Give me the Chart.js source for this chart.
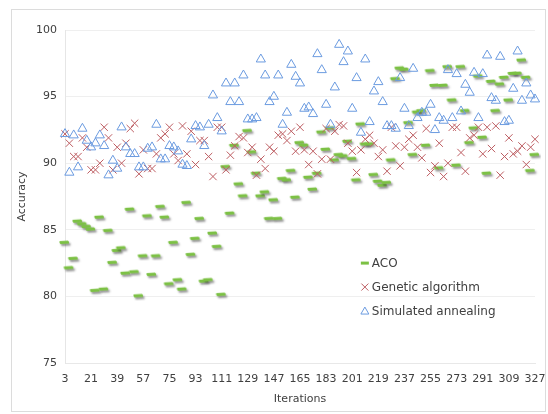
<!DOCTYPE html>
<html>
<head>
<meta charset="utf-8">
<script src="https://cdn.jsdelivr.net/npm/chart.js@4.4.1/dist/chart.umd.min.js"></script>
<style>
    html, body { margin: 0; padding: 0; background: #fff; }
    #wrap { position: relative; width: 548px; height: 414px; }
    #frame { position: absolute; left: 11px; top: 9px; right: 2px; bottom: 2px; border: 1px solid #dcdcdc; pointer-events: none; }
</style>
</head>
<body>
<div id="wrap">
    <canvas id="accChart" width="548" height="414"></canvas>
    <div id="frame"></div>
</div>
<script>
// categories (iterations)
const iterations = [3, 6, 9, 12, 15, 18, 21, 24, 27, 30, 33, 36, 39, 42, 45, 48, 51, 54, 57, 60,
    63, 66, 69, 72, 75, 78, 81, 84, 87, 90, 93, 96, 99, 102, 105, 108, 111, 114, 117, 120,
    123, 126, 129, 132, 135, 138, 141, 144, 147, 150, 153, 156, 159, 162, 165, 168, 171, 174, 177, 180,
    183, 186, 189, 192, 195, 198, 201, 204, 207, 210, 213, 216, 219, 222, 225, 228, 231, 234, 237, 240,
    243, 246, 249, 252, 255, 258, 261, 264, 267, 270, 273, 276, 279, 282, 285, 288, 291, 294, 297, 300,
    303, 306, 309, 312, 315, 318, 321, 324, 327];

const xTickLabels = [3, 21, 39, 57, 75, 93, 111, 129, 147, 165, 183, 201, 219, 237, 255, 273, 291, 309, 327];
const yTickLabels = [75, 80, 85, 90, 95, 100];

const acoValues = [84.0, 82.1, 82.8, 85.6, 85.4, 85.2, 85.0, 80.4, 85.9, 80.5, 84.9, 82.5, 83.4, 83.6, 81.7, 86.5, 81.8, 80.0, 83.0, 86.0,
    81.6, 83.0, 86.7, 85.9, 80.9, 84.0, 81.2, 80.5, 87.0, 83.1, 84.3, 85.8, 81.1, 81.2, 84.7, 83.7, 80.1, 89.7, 86.2, 91.3,
    88.4, 87.5, 92.4, 90.8, 89.2, 87.5, 87.8, 85.8, 87.2, 85.8, 88.8, 88.7, 89.4, 87.4, 91.5, 91.3, 88.9, 88.0, 89.2, 92.3,
    91.0, 92.6, 90.2, 90.6, 90.5, 91.6, 90.3, 88.7, 92.9, 91.4, 91.4, 89.1, 88.6, 88.3, 88.5, 90.2, 96.3, 97.1, 97.0, 93.0,
    90.6, 93.8, 93.9, 91.3, 96.9, 95.8, 89.6, 95.8, 97.2, 94.7, 89.8, 97.2, 93.9, 91.5, 92.6, 96.5, 91.9, 89.2, 96.1, 93.9,
    95.9, 96.4, 94.7, 96.7, 96.7, 97.7, 96.4, 89.4, 90.6];

const gaValues = [92.2, 91.5, 90.5, 90.5, 91.9, 91.2, 89.5, 89.5, 90.0, 92.7, 91.9, 89.5, 91.2, 90.0, 91.5, 92.6, 93.0, 89.2, 91.0, 89.6,
    89.6, 90.7, 91.9, 92.2, 92.7, 90.7, 90.2, 92.8, 90.7, 92.4, 89.9, 91.7, 91.7, 90.5, 89.0, 92.7, 92.7, 89.5, 90.6, 91.3,
    92.0, 91.9, 90.8, 91.2, 89.1, 90.3, 89.6, 91.2, 90.9, 92.1, 92.2, 91.7, 92.4, 90.9, 92.7, 91.0, 89.9, 90.9, 89.2, 90.3,
    92.6, 90.3, 92.4, 92.9, 92.8, 91.5, 90.9, 89.3, 91.0, 91.8, 92.1, 91.5, 90.5, 91.0, 89.4, 92.7, 91.3, 89.8, 91.2, 91.8,
    92.1, 91.2, 90.4, 92.6, 89.3, 89.8, 91.5, 89.0, 90.0, 92.7, 92.7, 90.8, 89.4, 91.9, 92.1, 92.7, 90.7, 92.7, 91.1, 92.8,
    89.1, 90.5, 91.9, 90.7, 90.9, 91.3, 89.9, 91.2, 91.8];

const saValues = [92.2, 89.3, 92.1, 89.7, 92.6, 91.7, 91.2, 91.5, 92.1, 91.3, 89.1, 90.2, 89.6, 92.7, 91.2, 90.7, 90.7, 89.7, 89.7, 91.1,
    91.2, 92.9, 90.3, 90.3, 91.3, 91.2, 90.9, 89.9, 89.8, 91.8, 92.8, 92.7, 91.3, 92.9, 95.1, 93.4, 92.4, 96.0, 94.6, 96.0,
    94.6, 96.6, 93.3, 93.3, 93.4, 97.8, 96.6, 94.6, 95.0, 96.6, 92.9, 93.8, 97.4, 96.5, 96.0, 94.1, 94.2, 93.7, 98.2, 97.0,
    94.4, 92.9, 95.7, 98.9, 97.6, 98.4, 94.1, 96.4, 92.3, 97.8, 93.1, 95.4, 96.1, 94.6, 92.8, 92.8, 92.6, 96.4, 94.1, 92.8,
    97.1, 93.4, 93.8, 93.8, 94.4, 92.5, 93.4, 93.2, 97.0, 93.4, 96.7, 93.9, 95.9, 95.3, 96.8, 93.4, 96.7, 98.1, 94.9, 94.7,
    98.0, 93.1, 93.2, 95.6, 98.4, 94.7, 96.0, 95.1, 94.8];

const seriesNames = ['ACO', 'Genetic algorithm', 'Simulated annealing'];

const GREEN = '#7cc144';
const RED = '#bd5d62';
const BLUE = '#6b9be0';
const TEXT = '#404040';
const FONT = "'DejaVu Sans', Verdana, sans-serif";

const app = {
    chart: null,

    // green dash with a soft drop shadow, like the Excel "dash" marker
    makeDash() {
        const c = document.createElement('canvas');
        c.width = 16;
        c.height = 10;
        const ctx = c.getContext('2d');
        ctx.shadowColor = 'rgba(60,60,60,0.55)';
        ctx.shadowBlur = 2;
        ctx.shadowOffsetX = 1.5;
        ctx.shadowOffsetY = 2;
        ctx.fillStyle = GREEN;
        ctx.beginPath();
        ctx.moveTo(2.5, 3);
        ctx.lineTo(11, 2.5);
        ctx.quadraticCurveTo(12.5, 3.5, 12, 5.5);
        ctx.lineTo(3.5, 6);
        ctx.quadraticCurveTo(2, 5, 2.5, 3);
        ctx.closePath();
        ctx.fill();
        return c;
    },

    legendPlugin() {
        return {
            id: 'insideLegend',
            afterDraw(chart) {
                const { ctx, chartArea: a } = chart;
                const x = a.left + (a.right - a.left) * 0.638;
                const rows = [0.70, 0.772, 0.844].map(f => a.top + (a.bottom - a.top) * f);
                ctx.save();
                ctx.font = '12px ' + FONT;
                ctx.textBaseline = 'middle';
                seriesNames.forEach((name, i) => {
                    const y = rows[i];
                    ctx.lineWidth = 1;
                    if (i === 0) {
                        ctx.fillStyle = GREEN;
                        ctx.fillRect(x - 4, y - 1.5, 8, 3);
                    } else if (i === 1) {
                        ctx.strokeStyle = RED;
                        ctx.beginPath();
                        ctx.moveTo(x - 3.5, y - 3.5); ctx.lineTo(x + 3.5, y + 3.5);
                        ctx.moveTo(x - 3.5, y + 3.5); ctx.lineTo(x + 3.5, y - 3.5);
                        ctx.stroke();
                    } else {
                        ctx.strokeStyle = BLUE;
                        ctx.beginPath();
                        ctx.moveTo(x, y - 4); ctx.lineTo(x + 4, y + 3); ctx.lineTo(x - 4, y + 3);
                        ctx.closePath();
                        ctx.stroke();
                    }
                    ctx.fillStyle = TEXT;
                    ctx.fillText(name, x + 7, y + 1);
                });
                ctx.restore();
            }
        };
    },

    init() {
        const dash = this.makeDash();
        const ctx = document.getElementById('accChart').getContext('2d');

        this.chart = new Chart(ctx, {
            type: 'line',
            data: {
                labels: iterations,
                datasets: [
                    { label: seriesNames[0], data: acoValues, showLine: false, order: 3,
                      pointStyle: dash, pointRadius: 5, pointHoverRadius: 5 },
                    { label: seriesNames[1], data: gaValues, showLine: false, order: 2,
                      pointStyle: 'crossRot', pointRadius: 5.2, borderColor: RED, backgroundColor: RED, pointBorderWidth: 1 },
                    { label: seriesNames[2], data: saValues, showLine: false, order: 1,
                      pointStyle: 'triangle', pointRadius: 5.3, borderColor: BLUE, backgroundColor: 'rgba(0,0,0,0)', pointBorderWidth: 1 }
                ]
            },
            options: {
                responsive: false,
                animation: false,
                layout: { padding: { left: 12, right: 13, top: 30, bottom: 4 } },
                plugins: { legend: { display: false }, tooltip: { enabled: false } },
                scales: {
                    x: {
                        type: 'category',
                        offset: false,
                        grid: { display: false },
                        border: { color: '#e8e8e8' },
                        ticks: {
                            autoSkip: false, maxRotation: 0, color: TEXT, padding: 2,
                            font: { family: FONT, size: 11 },
                            callback(v) { const it = iterations[v]; return xTickLabels.includes(it) ? String(it) : ''; }
                        },
                        title: { display: true, text: 'Iterations', color: TEXT, font: { family: FONT, size: 11 }, padding: { top: 2 } },
                        afterFit(s) { s.height = 47; }
                    },
                    y: {
                        min: yTickLabels[0],
                        max: yTickLabels[yTickLabels.length - 1],
                        grid: { color: '#efefef', drawTicks: false },
                        border: { color: '#e6e6e6' },
                        ticks: { stepSize: 5, color: TEXT, padding: 8, font: { family: FONT, size: 11 } },
                        title: { display: true, text: 'Accuracy', color: TEXT, font: { family: FONT, size: 11 }, padding: { bottom: 4 } },
                        afterFit(s) { s.width = 53; }
                    }
                }
            },
            plugins: [this.legendPlugin()]
        });
    }
};

app.init();
</script>
</body>
</html>
